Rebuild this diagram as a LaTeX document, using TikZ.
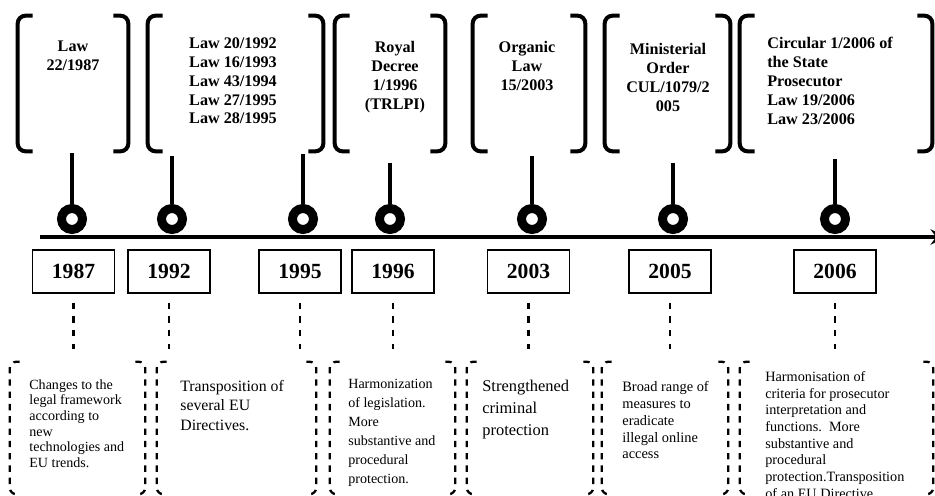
\documentclass[tikz,border=0pt]{standalone}
\usepackage{fontspec}
\setmainfont{Liberation Serif}
\begin{document}
\begin{tikzpicture}[>=stealth, x=0.02cm, y=-0.02cm,
    brk/.style={line width=2.3pt, rounded corners=4.5pt},
    dbrk/.style={line width=1.3pt, dash pattern=on 3.6pt off 3.4pt, rounded corners=4pt},
    frame/.style={inner sep=0pt, minimum height=#1},
    stem/.style={line width=2.3pt},
    ring/.style={circle, draw, line width=5.1pt, minimum size=0.42cm, inner sep=0pt},
    yearbox/.style={draw, line width=1.1pt, minimum width=1.64cm, minimum height=0.86cm, inner sep=0pt, font=\bfseries\fontsize{12.3}{14}\selectfont},
    lawtxt/.style={font=\bfseries\fontsize{9.2}{10.8}\selectfont, align=center, inner sep=0pt, anchor=north},
    desc/.style={align=left, inner sep=0pt, anchor=north west},
    link/.style={line width=1.5pt, dash pattern=on 3.6pt off 4.2pt, shorten <=5pt, shorten >=7pt}]
    \useasboundingbox (0,0) rectangle (935,496);

    % Normas (arriba)
    \node[frame=2.7cm, minimum width=2.2cm] (g1) at (73,83.5) {};
    \node[frame=2.7cm, minimum width=3.5cm] (g2) at (235.5,83.5) {};
    \node[frame=2.7cm, minimum width=2.2cm] (g3) at (390,83.5) {};
    \node[frame=2.7cm, minimum width=2.24cm] (g4) at (529,83.5) {};
    \node[frame=2.7cm, minimum width=2.5cm] (g5) at (667.5,83.5) {};
    \node[frame=2.7cm, minimum width=3.84cm] (g6) at (836,83.5) {};
    \draw[brk] ([xshift=0.3cm]g1.north west) -- (g1.north west) -- (g1.south west) -- ([xshift=0.3cm]g1.south west)
        ([xshift=-0.3cm]g1.north east) -- (g1.north east) -- (g1.south east) -- ([xshift=-0.3cm]g1.south east);
    \draw[brk] ([xshift=0.3cm]g2.north west) -- (g2.north west) -- (g2.south west) -- ([xshift=0.3cm]g2.south west)
        ([xshift=-0.3cm]g2.north east) -- (g2.north east) -- (g2.south east) -- ([xshift=-0.3cm]g2.south east);
    \draw[brk] ([xshift=0.3cm]g3.north west) -- (g3.north west) -- (g3.south west) -- ([xshift=0.3cm]g3.south west)
        ([xshift=-0.3cm]g3.north east) -- (g3.north east) -- (g3.south east) -- ([xshift=-0.3cm]g3.south east);
    \draw[brk] ([xshift=0.3cm]g4.north west) -- (g4.north west) -- (g4.south west) -- ([xshift=0.3cm]g4.south west)
        ([xshift=-0.3cm]g4.north east) -- (g4.north east) -- (g4.south east) -- ([xshift=-0.3cm]g4.south east);
    \draw[brk] ([xshift=0.3cm]g5.north west) -- (g5.north west) -- (g5.south west) -- ([xshift=0.3cm]g5.south west)
        ([xshift=-0.3cm]g5.north east) -- (g5.north east) -- (g5.south east) -- ([xshift=-0.3cm]g5.south east);
    \draw[brk] ([xshift=0.3cm]g6.north west) -- (g6.north west) -- (g6.south west) -- ([xshift=0.3cm]g6.south west)
        ([xshift=-0.3cm]g6.north east) -- (g6.north east) -- (g6.south east) -- ([xshift=-0.3cm]g6.south east);

    \node[lawtxt] (l87) at (73,41) {Law\\22/1987};
    \node[lawtxt] (l92) at (233,37) {Law 20/1992\\Law 16/1993\\Law 43/1994\\Law 27/1995\\Law 28/1995};
    \node[lawtxt] (l96) at (395,41) {Royal\\Decree\\1/1996\\(TRLPI)};
    \node[lawtxt] (l03) at (527,41) {Organic\\Law\\15/2003};
    \node[lawtxt] (l05) at (668,43) {Ministerial\\Order\\CUL/1079/2\\005};
    \node[lawtxt, align=left, anchor=north west] (l06) at (767,37) {Circular 1/2006 of\\the State\\Prosecutor\\Law 19/2006\\Law 23/2006};

    % Eje del tiempo
    \coordinate (t0) at (40,237);
    \coordinate (t1) at (946,237);
    \draw[->, line width=2.8pt] (t0) -- (t1);

    \node[ring] (m87) at (72,219) {};
    \node[ring] (m92) at (172,219) {};
    \node[ring] (m95) at (303,219) {};
    \node[ring] (m96) at (390,219) {};
    \node[ring] (m03) at (532,219) {};
    \node[ring] (m05) at (673,219) {};
    \node[ring] (m06) at (835,219) {};
    \coordinate (s87) at (72,153);
    \coordinate (s92) at (172,156);
    \coordinate (s95) at (303,154);
    \coordinate (s96) at (390,163);
    \coordinate (s03) at (532,156);
    \coordinate (s05) at (673,163);
    \coordinate (s06) at (835,159);
    \draw[stem] (m87) -- (s87);
    \draw[stem] (m92) -- (s92);
    \draw[stem] (m95) -- (s95);
    \draw[stem] (m96) -- (s96);
    \draw[stem] (m03) -- (s03);
    \draw[stem] (m05) -- (s05);
    \draw[stem] (m06) -- (s06);

    % Años
    \node[yearbox] (y87) at (73.5,271.5) {1987};
    \node[yearbox] (y92) at (169,271.5) {1992};
    \node[yearbox] (y95) at (300,271.5) {1995};
    \node[yearbox] (y96) at (393,271.5) {1996};
    \node[yearbox] (y03) at (528.5,271.5) {2003};
    \node[yearbox] (y05) at (670,271.5) {2005};
    \node[yearbox] (y06) at (835,271.5) {2006};

    % Efectos (abajo)
    \node[frame=2.64cm, minimum width=2.7cm] (d1) at (77.5,428) {};
    \node[frame=2.64cm, minimum width=3.18cm] (d2) at (236.5,428) {};
    \node[frame=2.64cm, minimum width=2.5cm] (d3) at (392.5,428) {};
    \node[frame=2.64cm, minimum width=2.52cm] (d4) at (530,428) {};
    \node[frame=2.64cm, minimum width=2.52cm] (d5) at (665,428) {};
    \node[frame=2.64cm, minimum width=3.86cm] (d6) at (836.5,428) {};
    \draw[dbrk] ([xshift=0.2cm]d1.north west) -- (d1.north west) -- (d1.south west) -- ([xshift=0.2cm]d1.south west)
        ([xshift=-0.2cm]d1.north east) -- (d1.north east) -- (d1.south east) -- ([xshift=-0.2cm]d1.south east);
    \draw[dbrk] ([xshift=0.2cm]d2.north west) -- (d2.north west) -- (d2.south west) -- ([xshift=0.2cm]d2.south west)
        ([xshift=-0.2cm]d2.north east) -- (d2.north east) -- (d2.south east) -- ([xshift=-0.2cm]d2.south east);
    \draw[dbrk] ([xshift=0.2cm]d3.north west) -- (d3.north west) -- (d3.south west) -- ([xshift=0.2cm]d3.south west)
        ([xshift=-0.2cm]d3.north east) -- (d3.north east) -- (d3.south east) -- ([xshift=-0.2cm]d3.south east);
    \draw[dbrk] ([xshift=0.2cm]d4.north west) -- (d4.north west) -- (d4.south west) -- ([xshift=0.2cm]d4.south west)
        ([xshift=-0.2cm]d4.north east) -- (d4.north east) -- (d4.south east) -- ([xshift=-0.2cm]d4.south east);
    \draw[dbrk] ([xshift=0.2cm]d5.north west) -- (d5.north west) -- (d5.south west) -- ([xshift=0.2cm]d5.south west)
        ([xshift=-0.2cm]d5.north east) -- (d5.north east) -- (d5.south east) -- ([xshift=-0.2cm]d5.south east);
    \draw[dbrk] ([xshift=0.2cm]d6.north west) -- (d6.north west) -- (d6.south west) -- ([xshift=0.2cm]d6.south west)
        ([xshift=-0.2cm]d6.north east) -- (d6.north east) -- (d6.south east) -- ([xshift=-0.2cm]d6.south east);

    \draw[link] (y87) -- (y87 |- d1.north);
    \draw[link] (y92) -- (y92 |- d2.north);
    \draw[link] (y95) -- (y95 |- d2.north);
    \draw[link] (y96) -- (y96 |- d3.north);
    \draw[link] (y03) -- (y03 |- d4.north);
    \draw[link] (y05) -- (y05 |- d5.north);
    \draw[link] (y06) -- (y06 |- d6.north);

    \node[desc, font=\fontsize{8}{8.9}\selectfont] (e1) at (29,379) {Changes to the\\legal framework\\according to\\new\\technologies and\\EU trends.};
    \node[desc, font=\fontsize{9}{11}\selectfont] (e2) at (180,380) {Transposition of\\several EU\\Directives.};
    \node[desc, font=\fontsize{8}{10.8}\selectfont] (e3) at (348,379) {Harmonization\\of legislation.\\More\\substantive and\\procedural\\protection.};
    \node[desc, font=\fontsize{9.35}{12.5}\selectfont] (e4) at (482,380) {Strengthened\\criminal\\protection};
    \node[desc, font=\fontsize{8.2}{9.6}\selectfont] (e5) at (622,381) {Broad range of\\measures to\\eradicate\\illegal online\\access};
    \node[desc, font=\fontsize{8.1}{9.5}\selectfont] (e6) at (765,371) {Harmonisation of\\criteria for prosecutor\\interpretation and\\functions.\ \ More\\substantive and\\procedural\\protection.Transposition\\of an EU Directive.};
\end{tikzpicture}
\end{document}
